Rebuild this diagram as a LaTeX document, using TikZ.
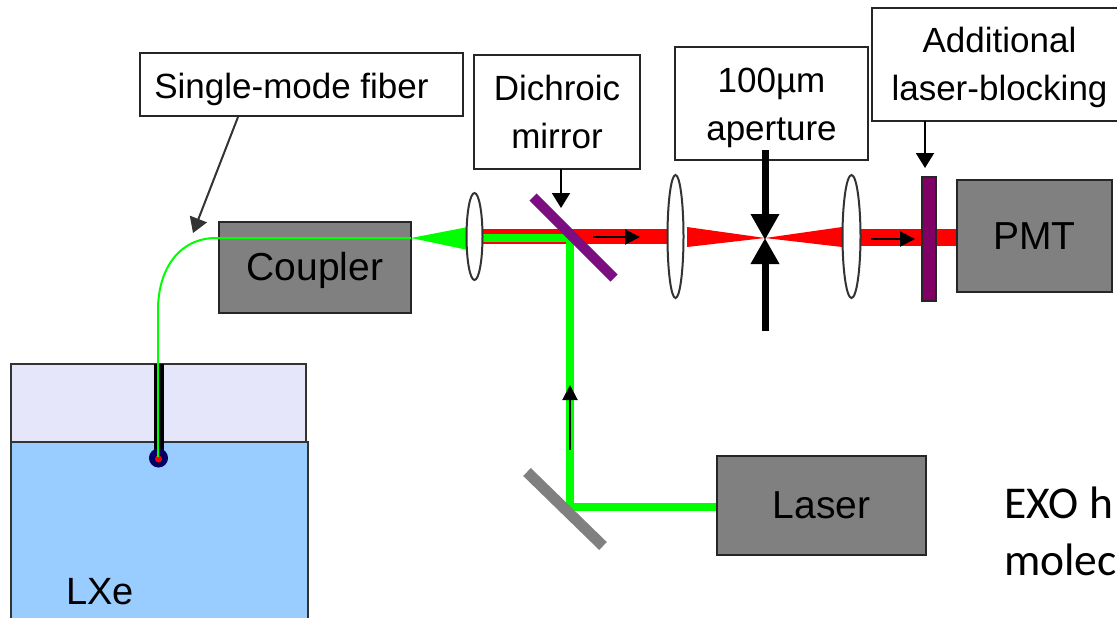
\documentclass[tikz,border=0pt]{standalone}
\usepackage{fontspec}
\setmainfont{Liberation Sans}
\newfontfamily\slidefont{Carlito}
\usetikzlibrary{arrows.meta}
\usetikzlibrary{positioning}
\definecolor{gasfill}{HTML}{E6E6FB}
\definecolor{lxefill}{HTML}{99CCFF}
\definecolor{mirrorpurple}{HTML}{7B0F82}
\definecolor{filterpurple}{HTML}{800066}
\newcommand{\topgap}[1]{\rule{0pt}{#1}}
\tikzset{labelbox/.style={draw=black!85, line width=1.5pt, fill=white, align=center, inner sep=0pt, outer sep=0pt, font=\fontsize{35}{47.5}\selectfont},
greybox/.style={draw=black!85, line width=1.5pt, fill=black!50, inner sep=0pt, outer sep=0pt, font=\fontsize{39}{44}\selectfont},
lens/.style={draw=black!80, line width=2pt, fill=white},
pointer/.style={black, line width=2pt, -{Triangle[length=15pt,width=18pt]}},
beamarrow/.style={black, line width=2pt, -{Triangle[length=15pt,width=15pt]}},
stopper/.style={black, line width=7pt, -{Triangle[length=26pt,width=27pt]}}}
\begin{document}
\begin{tikzpicture}[x=1pt, y=-1pt]
	\useasboundingbox (0,0) rectangle (1117,618);
	% tank
	\fill[gasfill, draw=black!80, line width=1.5pt] (11,364) rectangle (306,442);
	\fill[lxefill] (11,442) rectangle (308,618);
	\draw[black!80, line width=1.5pt] (11,618) -- (11,442) -- (308,442) -- (308,618);
	\node[font=\fontsize{38}{44}\selectfont] (lxe) at (100,592) {LXe};
	% beams
	\fill[red] (483,229) rectangle (667,244);
	\fill[red] (687,227) -- (765,238) -- (842,227) -- (842,247) -- (765,238) -- (687,247) -- cycle;
	\fill[red] (861,229) rectangle (957,246);
	\fill[green] (411,238) -- (468,227) -- (468,250) -- cycle;
	\fill[green] (483,234) rectangle (573,242);
	\fill[green] (566,234) rectangle (574,511);
	\fill[green] (566,503) rectangle (717,511);
	% optics
	\node[greybox, minimum width=192, minimum height=91] (coupler) at (315,267.5) {\topgap{34.5pt}Coupler};
	\node[greybox, minimum width=155, minimum height=112] (pmt) at (1034.5,236) {PMT};
	\node[greybox, minimum width=209, minimum height=99] (laser) at (821.5,505.5) {Laser};
	\draw[mirrorpurple, line width=10pt] (533,197) -- (614,278);
	\draw[black!50, line width=11pt] (527,472) -- (603,546);
	\node[draw=black!85, line width=1.5pt, fill=filterpurple, inner sep=0pt, minimum width=14, minimum height=124] (filter) at (929,239) {};
	\draw[lens] (474.5,236.5) ellipse (8 and 43.5);
	\draw[lens] (675.5,236.5) ellipse (8 and 61.5);
	\draw[lens] (851.5,236.5) ellipse (9 and 61.5);
	% fiber
	\draw[black, line width=10pt] (159,364) -- (159,455);
	\fill[blue!40!black, draw=black!60!blue, line width=1pt] (158.5,458) circle (9);
	\fill[red] (158.5,459) circle (3.5);
	\coordinate (fiberstart) at (411,238);
	\coordinate (fibertip) at (158,457);
	\draw[green, line width=2pt] (fiberstart) -- (216,238) .. controls (180,238) and (158,268) .. (158,310) -- (fibertip);
	% labels
	\node[labelbox, minimum width=323, minimum height=63] (fiberlabel) at (301.5,84.5) {\hspace*{-20pt}\topgap{35.5pt}Single-mode fiber};
	\node[labelbox, minimum width=166, minimum height=114] (dichroic) at (557,112) {Dichroic\\mirror};
	\node[labelbox, minimum width=193, minimum height=113] (aperture) at (771.5,103.5) {\topgap{33pt}100µm\\aperture};
	\node[labelbox, minimum width=255, minimum height=113] (blocking) at (999.5,64.5) {\topgap{31.5pt}Additional\\laser-blocking};
	\node[font=\slidefont\fontsize{45.5}{57}\selectfont, anchor=north west, align=left, inner sep=0pt] (exo) at (1004,487) {EXO h\\molec};
	% arrows
	\coordinate (fiberfoot) at (238,117);
	\coordinate (fiberhead) at (193,233);
	\coordinate (mirrorhead) at (561,208);
	\coordinate (filterhead) at (925,168);
	\coordinate (pinholetop) at (765,240);
	\coordinate (pinholebottom) at (765,238);
	\coordinate (stoptop) at (765,150);
	\coordinate (stopbottom) at (765,331);
	\draw[pointer, black!80] (fiberfoot) -- (fiberhead);
	\draw[pointer] (dichroic.south -| mirrorhead) -- (mirrorhead);
	\draw[pointer] (blocking.south -| filterhead) -- (filterhead);
	\draw[stopper] (stoptop) -- (pinholetop);
	\draw[stopper] (stopbottom) -- (pinholebottom);
	\coordinate (redstart) at (593,237);
	\coordinate (redend) at (640,237);
	\coordinate (redstartb) at (871,239);
	\coordinate (redendb) at (915,239);
	\coordinate (greenstart) at (570,450);
	\coordinate (greenend) at (570,385);
	\draw[beamarrow] (redstart) -- (redend);
	\draw[beamarrow] (redstartb) -- (redendb);
	\draw[beamarrow] (greenstart) -- (greenend);
\end{tikzpicture}
\end{document}
